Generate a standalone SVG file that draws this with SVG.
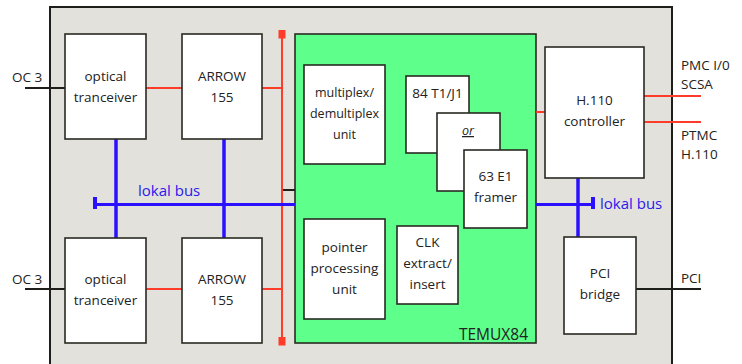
<svg xmlns="http://www.w3.org/2000/svg" width="742" height="364" viewBox="0 0 742 364">
<style>
.box{fill:#fff;stroke:#2a2a22;stroke-width:1.6}
.t{font-family:"Open Sans","Noto Sans",sans-serif;font-size:13.5px;fill:#222;text-anchor:middle}
.s{font-size:12.5px}
.lbl{font-family:"Open Sans","Noto Sans",sans-serif;font-size:13.5px;fill:#222}
.bus{font-family:"Open Sans","Noto Sans",sans-serif;font-size:15px;fill:#2a18ee}
.red{stroke:#ff3b2a;stroke-width:2;fill:none}
.blue{stroke:#2a10ff;stroke-width:3;fill:none}
.blk{stroke:#1e1e1a;stroke-width:2;fill:none}
</style>
<rect x="0" y="0" width="742" height="364" fill="#fff"/>
<g id="board">
<rect x="50" y="7" width="622" height="370" fill="#e2e1db" stroke="#1e1e1a" stroke-width="2"/>
</g>
<g id="temux84">
<rect x="295" y="34" width="241" height="309" fill="#5eff8a" stroke="#2a2a22" stroke-width="1.6"/>
<text class="lbl" x="528" y="340" text-anchor="end" style="font-size:15.5px">TEMUX84</text>
</g>
<g id="connectors">
<line class="blk" x1="25" y1="88" x2="65" y2="88"/>
<line class="blk" x1="25" y1="289" x2="65" y2="289"/>
<line class="blk" x1="282" y1="190" x2="295" y2="190"/>
<line class="blk" x1="636" y1="289" x2="701" y2="289"/>
<line class="red" x1="146" y1="88" x2="182" y2="88"/>
<line class="red" x1="262" y1="88" x2="282" y2="88"/>
<line class="red" x1="146" y1="289" x2="182" y2="289"/>
<line class="red" x1="262" y1="289" x2="282" y2="289"/>
<line class="red" x1="282" y1="32" x2="282" y2="343"/>
<rect x="278.5" y="30" width="7" height="8.5" fill="#ff3b2a"/>
<rect x="278.5" y="337" width="7" height="8.5" fill="#ff3b2a"/>
<line class="red" x1="536" y1="112" x2="545" y2="112"/>
<line class="red" x1="644" y1="96" x2="701" y2="96"/>
<line class="red" x1="644" y1="122" x2="701" y2="122"/>
<line class="blue" x1="95" y1="204.5" x2="295" y2="204.5"/>
<rect x="93" y="197" width="4" height="12" fill="#2a10ff"/>
<line class="blue" x1="116" y1="139" x2="116" y2="238" style="stroke-width:3.5"/>
<line class="blue" x1="224" y1="139" x2="224" y2="238" style="stroke-width:3.5"/>
<line class="blue" x1="536" y1="204.5" x2="593" y2="204.5"/>
<rect x="591" y="197" width="4" height="12" fill="#2a10ff"/>
<line class="blue" x1="578" y1="178" x2="578" y2="237" style="stroke-width:3.5"/>
</g>
<g id="labels">
<text class="lbl" x="12" y="82">OC 3</text>
<text class="lbl" x="12" y="284">OC 3</text>
<text class="bus" x="138" y="196">lokal bus</text>
<text class="bus" x="600" y="209">lokal bus</text>
<text class="lbl" x="681" y="70">PMC I/0</text>
<text class="lbl" x="681" y="89">SCSA</text>
<text class="lbl" x="681" y="140">PTMC</text>
<text class="lbl" x="681" y="159">H.110</text>
<text class="lbl" x="681" y="283">PCI</text>
</g>
<g id="optical-top">
<rect class="box" x="65" y="34" width="81" height="105"/>
<text class="t" x="105.5" y="81">optical</text>
<text class="t" x="105.5" y="102">tranceiver</text>
</g>
<g id="arrow-top">
<rect class="box" x="182" y="34" width="80" height="105"/>
<text class="t" x="222" y="81">ARROW</text>
<text class="t" x="222" y="102">155</text>
</g>
<g id="optical-bottom">
<rect class="box" x="65" y="238" width="81" height="105"/>
<text class="t" x="105.5" y="284">optical</text>
<text class="t" x="105.5" y="305">tranceiver</text>
</g>
<g id="arrow-bottom">
<rect class="box" x="182" y="238" width="80" height="105"/>
<text class="t" x="222" y="284">ARROW</text>
<text class="t" x="222" y="305">155</text>
</g>
<g id="mux">
<rect class="box" x="304" y="65" width="81" height="99"/>
<text class="t s" x="344.5" y="96.5">multiplex/</text>
<text class="t s" x="344.5" y="117.5">demultiplex</text>
<text class="t s" x="344.5" y="138.5">unit</text>
</g>
<g id="t1j1">
<rect class="box" x="406" y="76" width="63" height="77"/>
<text class="t" x="437.5" y="97.5">84 T1/J1</text>
</g>
<g id="or">
<rect class="box" x="437" y="113" width="63" height="78"/>
<text class="t s" x="468" y="135" font-style="italic" text-decoration="underline">or</text>
</g>
<g id="e1">
<rect class="box" x="464" y="150" width="63" height="78"/>
<text class="t" x="495.5" y="181">63 E1</text>
<text class="t" x="495.5" y="202">framer</text>
</g>
<g id="pointer">
<rect class="box" x="304" y="219" width="81" height="100"/>
<text class="t" x="344.5" y="252">pointer</text>
<text class="t" x="344.5" y="273">processing</text>
<text class="t" x="344.5" y="294">unit</text>
</g>
<g id="clk">
<rect class="box" x="397" y="226" width="61" height="78"/>
<text class="t" x="427.5" y="247">CLK</text>
<text class="t" x="427.5" y="268">extract/</text>
<text class="t" x="427.5" y="288.5">insert</text>
</g>
<g id="h110">
<rect class="box" x="545" y="47" width="99" height="131"/>
<text class="t" x="594.5" y="105">H.110</text>
<text class="t" x="594.5" y="126">controller</text>
</g>
<g id="pci">
<rect class="box" x="564" y="237" width="72" height="97"/>
<text class="t" x="600" y="278">PCI</text>
<text class="t" x="600" y="299">bridge</text>
</g>
</svg>
